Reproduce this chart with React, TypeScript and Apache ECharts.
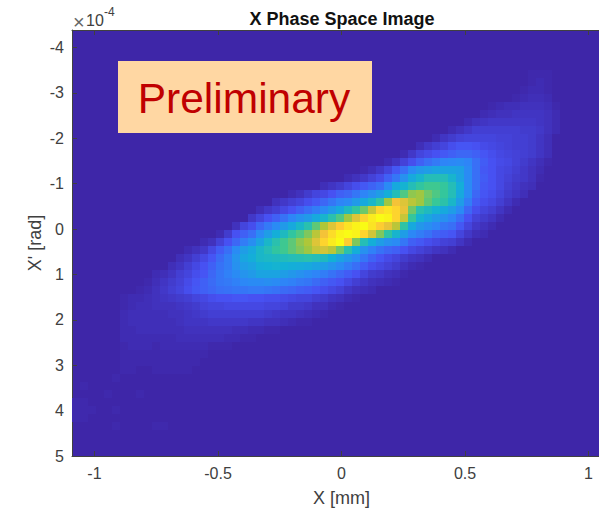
import React, { useEffect, useRef } from "react";
import * as echarts from "echarts";

const titleText = "X Phase Space Image";
const xName = "X [mm]";
const yName = "X' [rad]";
const xTicks = [-1, -0.5, 0, 0.5, 1];
const yTicks = [-4, -3, -2, -1, 0, 1, 2, 3, 4, 5];
const parula = ["#3E26A8", "#4752F4", "#2D87F7", "#12B1D6", "#37C897", "#ABC739", "#FEC338", "#F9FB15"];

// First column of each row of the image, and the intensity (0-100) of the cells from there on.
const firstRow = 5;
const rowStarts = [57, 57, 56, 55, 52, 51, 49, 47, 45, 43, 41, 39, 36, 34, 31, 27, 25, 23, 22, 20, 18, 16, 14, 13, 12, 10, 9, 8, 6, 6, 6, 6, 6, 6, 6, 6, 6, 6, 5, 1, 4, 0, 0, 0, 5];
const rowValues: number[][] = [
  [1, 1, 1],
  [1, 2, 1],
  [1, 2, 2, 1],
  [1, 2, 3, 3, 2],
  [1, 2, 3, 3, 4, 4, 4, 3, 1],
  [2, 3, 4, 4, 5, 5, 5, 5, 4, 2],
  [2, 4, 5, 6, 6, 6, 6, 6, 6, 5, 4, 2],
  [2, 4, 6, 8, 8, 8, 8, 8, 8, 7, 7, 6, 4, 2],
  [2, 5, 7, 9, 10, 10, 10, 10, 9, 9, 8, 8, 7, 5, 3],
  [3, 6, 8, 10, 13, 15, 15, 14, 12, 11, 10, 9, 8, 8, 7, 5, 3],
  [2, 6, 10, 12, 14, 16, 18, 20, 20, 18, 15, 13, 11, 10, 9, 8, 7, 5, 3],
  [2, 5, 9, 13, 18, 22, 25, 28, 29, 30, 28, 22, 17, 14, 12, 11, 9, 7, 5, 3, 1],
  [1, 3, 6, 10, 16, 22, 30, 34, 36, 38, 38, 38, 37, 30, 22, 16, 14, 11, 10, 8, 6, 4, 2],
  [2, 4, 6, 9, 12, 18, 24, 32, 40, 45, 50, 50, 50, 45, 38, 30, 22, 17, 14, 11, 9, 7, 6, 4, 1],
  [3, 5, 7, 10, 13, 16, 19, 22, 30, 40, 44, 50, 55, 58, 58, 56, 50, 42, 30, 22, 16, 14, 11, 8, 6, 4, 3],
  [2, 4, 7, 10, 11, 14, 18, 20, 24, 28, 32, 36, 42, 50, 60, 68, 70, 64, 60, 56, 50, 40, 30, 20, 15, 13, 10, 7, 5, 3],
  [4, 6, 8, 10, 13, 16, 20, 24, 28, 30, 35, 40, 46, 54, 70, 84, 80, 74, 70, 62, 57, 53, 46, 36, 26, 17, 13, 11, 8, 5, 2],
  [3, 6, 8, 11, 14, 18, 22, 26, 30, 35, 40, 48, 55, 64, 76, 90, 94, 90, 82, 64, 52, 48, 44, 40, 36, 30, 20, 13, 10, 8, 5, 2],
  [6, 10, 14, 18, 23, 28, 32, 35, 40, 45, 52, 60, 70, 80, 90, 96, 100, 98, 90, 76, 56, 44, 39, 35, 32, 28, 22, 14, 9, 7, 5, 2],
  [4, 10, 13, 20, 25, 30, 35, 40, 46, 52, 62, 72, 80, 88, 94, 98, 100, 94, 88, 82, 74, 54, 40, 34, 31, 28, 24, 22, 16, 10, 6, 4, 2],
  [2, 7, 14, 18, 22, 30, 36, 42, 48, 55, 60, 66, 74, 84, 92, 98, 100, 98, 90, 78, 66, 54, 45, 36, 29, 26, 23, 19, 17, 15, 10, 6, 3, 2],
  [2, 4, 9, 14, 20, 26, 31, 38, 46, 52, 58, 62, 68, 72, 80, 90, 96, 100, 88, 66, 50, 42, 36, 32, 30, 24, 18, 16, 13, 11, 9, 8, 5, 2],
  [2, 4, 6, 11, 17, 22, 30, 36, 40, 46, 50, 55, 58, 62, 66, 70, 76, 78, 74, 64, 52, 42, 32, 27, 23, 20, 18, 14, 11, 9, 7, 5, 4, 2],
  [3, 5, 8, 11, 15, 21, 26, 33, 39, 42, 46, 47, 48, 49, 50, 51, 52, 50, 48, 43, 38, 34, 30, 24, 19, 15, 12, 10, 7, 5, 4, 2],
  [3, 5, 8, 11, 14, 18, 23, 26, 32, 36, 38, 42, 43, 44, 43, 42, 41, 40, 38, 36, 33, 30, 26, 22, 17, 13, 11, 9, 7, 4, 2, 1],
  [2, 3, 5, 8, 10, 13, 15, 20, 24, 27, 30, 33, 35, 38, 38, 38, 36, 34, 32, 30, 28, 26, 23, 20, 17, 14, 10, 7, 6, 4, 3, 1],
  [1, 3, 5, 7, 9, 12, 15, 18, 21, 24, 25, 27, 29, 30, 30, 31, 30, 28, 27, 25, 24, 21, 18, 16, 14, 11, 8, 6, 4, 3, 2, 1],
  [1, 2, 4, 6, 8, 10, 13, 16, 18, 20, 22, 23, 24, 24, 25, 25, 24, 23, 21, 20, 18, 17, 15, 13, 11, 9, 6, 4, 3, 2],
  [1, 2, 2, 3, 4, 5, 6, 7, 8, 10, 11, 13, 14, 14, 15, 15, 14, 14, 13, 13, 12, 11, 10, 10, 8, 7, 5, 4, 2, 1],
  [1, 2, 3, 3, 4, 4, 4, 5, 6, 7, 9, 10, 10, 11, 11, 11, 11, 11, 10, 10, 9, 7, 7, 6, 4, 4, 2, 1],
  [2, 3, 3, 3, 3, 3, 4, 4, 5, 6, 7, 8, 8, 8, 8, 8, 8, 8, 7, 6, 5, 5, 4, 3, 2, 1],
  [2, 3, 3, 3, 3, 3, 3, 4, 5, 5, 5, 6, 6, 6, 6, 6, 5, 5, 4, 4, 3, 2, 1, 1],
  [2, 2, 3, 3, 3, 3, 3, 3, 4, 4, 4, 4, 4, 4, 3, 3, 2, 2, 1, 1],
  [2, 2, 2, 2, 2, 2, 2, 3, 3, 3, 3, 3, 3, 2, 2, 1, 1],
  [1, 2, 2, 2, 1, 2, 2, 2, 2, 2, 2, 1, 1, 1],
  [1, 1, 1, 1, 1, 1, 1, 1, 1, 1, 1],
  [1, 1, 1, 1, 1, 1, 1, 1, 1, 1],
  [1, 1, 0, 0, 1, 1, 1, 1, 1],
  [1],
  [1],
  [1, 0, 0, 0, 1],
  [1, 1],
  [1, 1, 1, 0, 0, 1],
  [1, 1],
  [1, 0, 0, 0, 0, 1, 1],
];

const xMin = -1.091;
const xMax = 1.091;
const yMin = -4.385;
const yMax = 5;
const xStep = (xMax - xMin) / 67.375;
const yStep = (yMax - yMin) / 53.25;

const cells: number[][] = [];
rowValues.forEach((vals, r) => {
  vals.forEach((v, c) => {
    if (v > 0) {
      cells.push([
        xMin + (rowStarts[r] + c + 0.5) * xStep,
        yMin + (firstRow + r + 0.5) * yStep,
        v,
      ]);
    }
  });
});

const ink = "#404040";

export default function App() {
  const ref = useRef<HTMLDivElement>(null);
  useEffect(() => {
    const chart = echarts.init(ref.current!, null, { renderer: "svg" });
    chart.setOption({
      animation: false,
      textStyle: { fontFamily: "Liberation Sans" },
      title: {
        text: titleText,
        left: 337,
        textAlign: "center",
        top: 5,
        textStyle: { fontFamily: "Liberation Sans", fontSize: 18, fontWeight: "bold", color: "#111" },
      },
      grid: {
        left: 72,
        top: 30,
        width: 539,
        height: 426,
        outerBoundsMode: "none",
        show: true,
        backgroundColor: parula[0],
        borderWidth: 0,
      },
      visualMap: {
        show: false,
        type: "continuous",
        min: 0,
        max: 100,
        dimension: 2,
        seriesIndex: 0,
        inRange: { color: parula },
      },
      xAxis: [
        {
          type: "value",
          min: xMin,
          max: xMax,
          name: xName,
          nameLocation: "middle",
          nameGap: 33,
          nameTextStyle: { fontFamily: "Liberation Sans", fontSize: 18, color: ink },
          splitLine: { show: false },
          axisLine: { show: true, onZero: false, lineStyle: { color: "#404040", width: 1 } },
          axisTick: { show: true, inside: true, length: 5, customValues: xTicks, lineStyle: { color: "#404040" } },
          axisLabel: { customValues: xTicks, fontFamily: "Liberation Sans", fontSize: 16, color: ink, margin: 9 },
        },
        {
          type: "value",
          position: "top",
          min: xMin,
          max: xMax,
          splitLine: { show: false },
          axisLine: { show: true, onZero: false, lineStyle: { color: "#404040", width: 1 } },
          axisTick: { show: true, inside: true, length: 5, customValues: xTicks, lineStyle: { color: "#404040" } },
          axisLabel: { show: false },
        },
      ],
      yAxis: {
        type: "value",
        inverse: true,
        min: yMin,
        max: yMax,
        name: yName,
        nameLocation: "middle",
        nameGap: 28,
        nameMoveOverlap: false,
        nameTextStyle: { fontFamily: "Liberation Sans", fontSize: 18, color: ink },
        splitLine: { show: false },
        axisLine: { show: true, onZero: false, lineStyle: { color: "#404040", width: 1 } },
        axisTick: { show: true, inside: true, length: 5, customValues: yTicks, lineStyle: { color: "#404040" } },
        axisLabel: { customValues: yTicks, fontFamily: "Liberation Sans", fontSize: 16, color: ink, margin: 8 },
      },
      graphic: [
        { type: "rect", x: 118, y: 61, shape: { width: 254, height: 72 }, style: { fill: "#FFD7A3" }, z: 10 },
        {
          type: "text",
          x: 244,
          y: 98,
          z: 11,
          style: {
            text: "Preliminary",
            fill: "#C00000",
            fontFamily: "Liberation Sans",
            fontSize: 42.5,
            textAlign: "center",
            textVerticalAlign: "middle",
          },
        },
        {
          type: "text",
          x: 73,
          y: 12,
          z: 11,
          style: { text: "×", fill: "#666", fontFamily: "Liberation Sans", fontSize: 20 },
        },
        {
          type: "text",
          x: 86,
          y: 12,
          z: 11,
          style: { text: "10", fill: ink, fontFamily: "Liberation Sans", fontSize: 16 },
        },
        {
          type: "text",
          x: 104,
          y: 6,
          z: 11,
          style: { text: "-4", fill: ink, fontFamily: "Liberation Sans", fontSize: 12 },
        },
      ],
      series: [
        {
          type: "custom",
          coordinateSystem: "cartesian2d",
          xAxisIndex: 0,
          yAxisIndex: 0,
          data: cells,
          encode: { x: 0, y: 1 },
          clip: true,
          silent: true,
          renderItem: (_: any, api: any) => {
            const a = api.coord([api.value(0) - xStep / 2, api.value(1) - yStep / 2]);
            const b = api.coord([api.value(0) + xStep / 2, api.value(1) + yStep / 2]);
            const x = Math.round(a[0]);
            const y = Math.round(a[1]);
            return {
              type: "rect",
              shape: { x, y, width: Math.round(b[0]) - x, height: Math.round(b[1]) - y },
              style: { fill: api.visual("color") },
            };
          },
        },
      ],
    });
    return () => chart.dispose();
  }, []);
  return <div ref={ref} style={{ position: "fixed", left: 0, top: 0, width: 599, height: 508, background: "#fff" }} />;
}
